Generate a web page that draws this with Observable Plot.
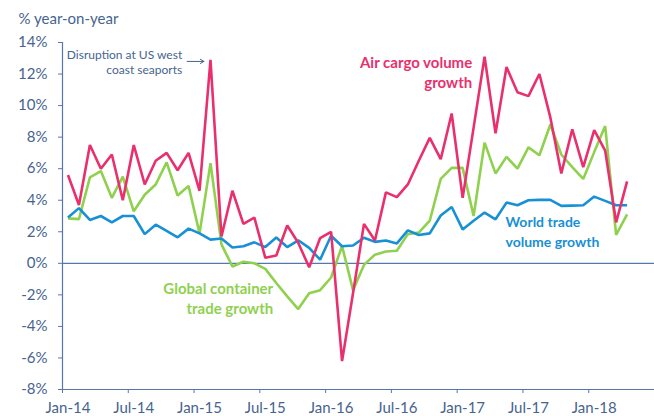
<!DOCTYPE html>
<html><head><meta charset="utf-8">
<script src="https://cdn.jsdelivr.net/npm/d3@7"></script>
<script src="https://cdn.jsdelivr.net/npm/@observablehq/plot@0.6"></script>
<style>
html,body{margin:0;padding:0;background:#fff;}
svg{display:block;}
</style>
</head><body><div id="chart"></div>
<script>
// Monthly, Jan-14 .. Apr-18 (52 months)
const months = d3.utcMonth.range(new Date(Date.UTC(2014, 0, 1)), new Date(Date.UTC(2018, 4, 1)));

const airCargo = [5.6, 3.7, 7.5, 6.0, 6.9, 4.0, 7.5, 5.0, 6.5, 7.0, 5.9, 7.0,
  4.6, 12.9, 1.7, 4.6, 2.5, 2.9, 0.35, 0.5, 2.4, 1.3, -0.25, 1.6,
  2.0, -6.2, -1.9, 2.5, 1.45, 4.5, 4.2, 5.0, 6.5, 7.95, 6.6, 9.5,
  4.15, 8.6, 13.1, 8.25, 12.45, 10.85, 10.6, 12.0, 9.25, 5.7, 8.5, 6.1,
  8.45, 7.15, 2.6, 5.2];

const containerTrade = [2.85, 2.8, 5.45, 5.85, 4.15, 5.5, 3.3, 4.35, 5.0, 6.4, 4.3, 4.9,
  1.9, 6.35, 1.2, -0.2, 0.1, 0.0, -0.35, -1.25, -2.1, -2.9, -1.9, -1.7,
  -0.9, 1.1, -1.7, -0.1, 0.55, 0.75, 0.8, 1.85, 1.95, 2.7, 5.35, 6.05,
  6.05, 3.0, 7.65, 5.7, 6.75, 6.0, 7.35, 6.85, 8.8, 6.9, 6.1, 5.35,
  7.05, 8.7, 1.8, 3.1];

const worldTrade = [2.9, 3.5, 2.75, 3.0, 2.6, 3.0, 3.0, 1.85, 2.45, 2.05, 1.65, 2.2,
  1.9, 1.5, 1.57, 1.0, 1.08, 1.33, 1.03, 1.64, 1.03, 1.46, 0.98, 0.23,
  1.75, 1.08, 1.13, 1.62, 1.36, 1.45, 1.26, 2.09, 1.8, 1.9, 3.03, 3.57,
  2.15, 2.7, 3.22, 2.79, 3.85, 3.68, 4.0, 4.02, 4.02, 3.64, 3.66, 3.68,
  4.23, 3.96, 3.68, 3.68];

const xTickLabels = ["Jan-14", "Jul-14", "Jan-15", "Jul-15", "Jan-16", "Jul-16", "Jan-17", "Jul-17", "Jan-18"];
const yTicks = [-8, -6, -4, -2, 0, 2, 4, 6, 8, 10, 12, 14];

const seriesNames = ["Global container trade growth", "World trade volume growth", "Air cargo volume growth"];
const seriesColors = ["#8fd14f", "#1790d6", "#e9306d"];

const FONT = "Lato, 'Open Sans', sans-serif";
const TEXT = "#46648f";
const AXIS = "#5577ac";

// months are categories; each point sits at the centre of its month slot
const toRows = (name, vals) => vals.map((v, i) => ({name, m: i + 0.5, v, date: months[i]}));
const rows = [
  ...toRows(seriesNames[0], containerTrade),
  ...toRows(seriesNames[1], worldTrade),
  ...toRows(seriesNames[2], airCargo)
];

const xTickPos = d3.range(0, 55, 6);            // slot boundaries every 6 months, Jan-14 .. Jul-18
const xLabelPos = d3.range(0, 49, 6).map(d => d + 0.5); // labels centred on the month slot

const chart = Plot.plot({
  width: 654,
  height: 416,
  marginLeft: 62,
  marginRight: 0,
  marginTop: 42,
  marginBottom: 27,
  style: {fontFamily: FONT, background: "#fff"},
  x: {type: "linear", domain: [0, 54]},
  y: {domain: [-8, 14]},
  color: {domain: seriesNames, range: seriesColors},
  marks: [
    Plot.ruleY([0], {stroke: AXIS, strokeWidth: 1.2}),
    Plot.ruleY([-8], {stroke: AXIS, strokeWidth: 1.2}),
    Plot.ruleX([0], {y1: -8, y2: 14, stroke: AXIS, strokeWidth: 1.2}),
    Plot.axisY({ticks: yTicks, tickSize: 4, tickPadding: 11, tickFormat: d => `${d}%`,
      label: null, fontSize: 15, color: TEXT, stroke: AXIS, strokeOpacity: 1}),
    Plot.axisX({ticks: xTickPos, tickSize: 4, tickFormat: () => "", label: null,
      stroke: AXIS, strokeOpacity: 1}),
    Plot.axisX({ticks: xLabelPos, tickSize: 0, tickPadding: 13,
      tickFormat: d => xTickLabels[(d - 0.5) / 6], label: null, fontSize: 15, color: TEXT}),
    Plot.line(rows, {x: "m", y: "v", z: "name", stroke: "name", strokeWidth: 2.6, strokeLinejoin: "miter", strokeLinecap: "butt"}),
    // title
    Plot.text(["% year-on-year"], {frameAnchor: "top-left", dx: -44, dy: -19, textAnchor: "start",
      lineAnchor: "bottom", fontSize: 15, fill: TEXT}),
    // annotations
    Plot.text(["Disruption at US west\ncoast seaports"], {x: 10.92, y: 12.0, textAnchor: "end",
      lineAnchor: "bottom", fontSize: 12, lineHeight: 1.22, fill: TEXT}),
    Plot.arrow([0], {x1: 11.37, y1: 12.8, x2: 12.9, y2: 12.8, stroke: TEXT, strokeWidth: 1, headLength: 6, bend: 0}),
    Plot.text(["Air cargo volume\ngrowth"], {x: 37.37, y: 11.13, textAnchor: "end", lineAnchor: "bottom",
      fontSize: 15, fontWeight: "bold", lineHeight: 1.33, fill: seriesColors[2]}),
    Plot.text(["World trade\nvolume growth"], {x: 40.41, y: 1.02, textAnchor: "start", lineAnchor: "bottom",
      fontSize: 14, fontWeight: "bold", lineHeight: 1.43, fill: seriesColors[1]}),
    Plot.text(["Global container\ntrade growth"], {x: 19.22, y: -3.2, textAnchor: "end", lineAnchor: "bottom",
      fontSize: 15, fontWeight: "bold", lineHeight: 1.33, fill: seriesColors[0]})
  ]
});
document.getElementById("chart").appendChild(chart);
</script>
</body></html>
